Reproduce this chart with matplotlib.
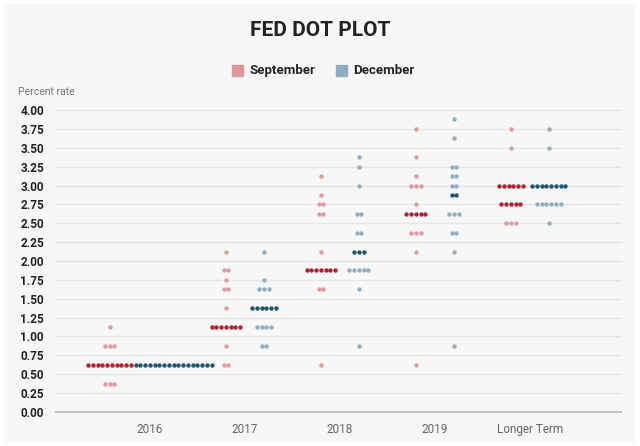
import numpy as np
import matplotlib
matplotlib.use('Agg')
import matplotlib.pyplot as plt
from matplotlib.patches import Rectangle

plt.rcParams['font.family'] = ['Roboto', 'DejaVu Sans']

# categories and dots (rate, number of participants)
categories = ['2016', '2017', '2018', '2019', 'Longer Term']

sep_2016_rate = [0.375, 0.625, 0.875, 1.125]
sep_2016_n = [3, 10, 3, 1]
sep_2017_rate = [0.625, 0.875, 1.125, 1.375, 1.625, 1.75, 1.875, 2.125]
sep_2017_n = [2, 1, 7, 1, 2, 1, 2, 1]
sep_2018_rate = [0.625, 1.625, 1.875, 2.125, 2.625, 2.75, 2.875, 3.125]
sep_2018_n = [1, 2, 7, 1, 2, 2, 1, 1]
sep_2019_rate = [0.625, 2.125, 2.375, 2.625, 2.75, 3.0, 3.125, 3.375, 3.75]
sep_2019_n = [1, 1, 3, 5, 1, 3, 1, 1, 1]
sep_lt_rate = [2.5, 2.75, 3.0, 3.5, 3.75]
sep_lt_n = [3, 5, 6, 1, 1]

dec_2016_rate = [0.625]
dec_2016_n = [17]
dec_2017_rate = [0.875, 1.125, 1.375, 1.625, 1.75, 2.125]
dec_2017_n = [2, 4, 6, 3, 1, 1]
dec_2018_rate = [0.875, 1.625, 1.875, 2.125, 2.375, 2.625, 3.0, 3.25, 3.375]
dec_2018_n = [1, 1, 5, 3, 2, 2, 1, 1, 1]
dec_2019_rate = [0.875, 2.125, 2.375, 2.625, 2.875, 3.0, 3.125, 3.25, 3.625, 3.875]
dec_2019_n = [1, 1, 2, 3, 2, 2, 2, 2, 1, 1]
dec_lt_rate = [2.5, 2.75, 3.0, 3.5, 3.75]
dec_lt_n = [1, 6, 8, 1, 1]

sep = [(sep_2016_rate, sep_2016_n), (sep_2017_rate, sep_2017_n), (sep_2018_rate, sep_2018_n),
       (sep_2019_rate, sep_2019_n), (sep_lt_rate, sep_lt_n)]
dec = [(dec_2016_rate, dec_2016_n), (dec_2017_rate, dec_2017_n), (dec_2018_rate, dec_2018_n),
       (dec_2019_rate, dec_2019_n), (dec_lt_rate, dec_lt_n)]

sep_light, sep_dark = '#e0999d', '#b3202f'
dec_light, dec_dark = '#90afc2', '#1b5870'

step = 0.05   # spacing between dots in a row
half = 0.2    # offset of each month from category centre


def median_rates(rates, counts):
    vals = np.repeat(rates, counts)
    n = len(vals)
    return {vals[(n - 1) // 2], vals[n // 2]}


fig = plt.figure(figsize=(6.4, 4.46), dpi=100)
fig.patch.set_facecolor('white')
fig.patches.append(Rectangle((4 / 640, 5 / 446), 630 / 640, 437 / 446,
                             transform=fig.transFigure, color='#f7f7f7', zorder=-10))

ax = fig.add_axes([55 / 640, 0.0729, 567 / 640, 0.6838])
ax.set_facecolor('none')

for i, ((sr, sn), (dr, dn)) in enumerate(zip(sep, dec)):
    sc, dc = i - half, i + half
    # rows shared by both months that would collide -> one combined row
    for r in set(sr) & set(dr):
        ns, nd = sn[sr.index(r)], dn[dr.index(r)]
        if (i - half) + (ns - 1) * step / 2 + step > (i + half) - (nd - 1) * step / 2:
            sc = i - nd * step / 2
            dc = i + ns * step / 2
    for (rates, counts, c, light, dark) in [(sr, sn, sc, sep_light, sep_dark),
                                            (dr, dn, dc, dec_light, dec_dark)]:
        med = median_rates(rates, counts)
        for r, n in zip(rates, counts):
            xs = c + (np.arange(n) - (n - 1) / 2) * step
            col = dark if r in med else light
            ax.scatter(xs, [r] * n, s=10, color=col, linewidths=0, zorder=3, clip_on=False)

yticks = np.arange(0, 4.01, 0.25)
for y in yticks:
    if y == 0:
        ax.axhline(y, color='#bdbdbd', lw=2, zorder=1)
    else:
        ax.axhline(y, color='#e6e6e6', lw=1, zorder=1)

ax.set_xlim(-1.0, 4.97)
ax.set_ylim(-0.02, 4.02)
ax.set_yticks(yticks)
ax.set_yticklabels(['%.2f' % y for y in yticks], fontsize=8.5, fontweight='bold', color='#222222')
ax.set_xticks(range(len(categories)))
ax.set_xticklabels(categories, fontsize=8.5, color='#666666')
ax.tick_params(axis='y', length=0, pad=8)
ax.tick_params(axis='x', length=0, pad=7)
for s in ax.spines.values():
    s.set_visible(False)

fig.text(0.5, 1 - 30 / 446, 'FED DOT PLOT', ha='center', va='center',
         fontsize=15, fontweight='bold', color='#222222')
fig.text(18 / 640, 1 - 92 / 446, 'Percent rate', ha='left', va='center',
         fontsize=7.5, color='#777777')

# legend
for x0, col, lab in [(232, '#e0959a', 'September'), (336, '#8eaec0', 'December')]:
    fig.patches.append(Rectangle((x0 / 640, 1 - 76 / 446), 11 / 640, 11 / 446,
                                 transform=fig.transFigure, color=col, zorder=2))
    fig.text((x0 + 17) / 640, 1 - 70.5 / 446, lab, ha='left', va='center',
             fontsize=9.5, fontweight='bold', color='#222222')

fig.savefig('out.png', dpi=100, facecolor=fig.get_facecolor())
